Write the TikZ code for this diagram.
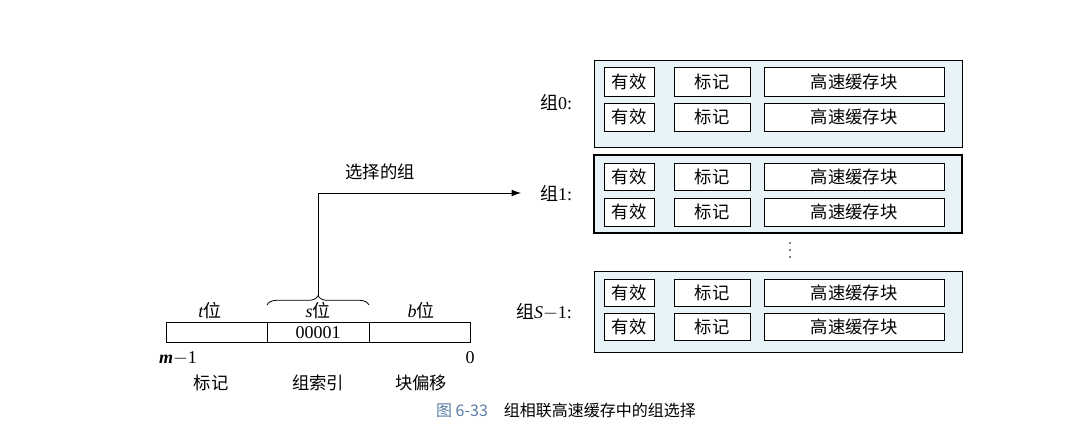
\documentclass[tikz,border=0pt]{standalone}
\usepackage{fontspec}
\setmainfont{Liberation Serif}
\newfontfamily\cjk{Noto Sans CJK SC}
\usetikzlibrary{decorations.pathreplacing,arrows.meta}
\definecolor{setfill}{HTML}{E8F3F8}
\definecolor{capblue}{HTML}{5A7FA8}
\tikzset{
  cell/.style={draw, line width=0.6pt, fill=white, inner sep=0pt, font=\cjk\fontsize{13}{13}\selectfont},
  setbox/.style={draw, line width=0.6pt, fill=setfill},
  lbl/.style={font=\fontsize{13.5}{13.5}\selectfont, inner sep=0pt},
  cjklbl/.style={font=\cjk\fontsize{13}{13}\selectfont, inner sep=0pt},
}
\begin{document}
\begin{tikzpicture}[x=0.75pt,y=-0.75pt]
\useasboundingbox (0,0) rectangle (1070,435);
\fill[white] (0,0) rectangle (1070,435);
\foreach \nm/\top/\bot/\lw in {s0/60/147/0.6pt, s1/155/233/1.4pt, sS/271/352/0.6pt}{
  \draw[setbox, line width=\lw] (594,\top) rectangle (962,\bot);
}
\foreach \nm/\ya/\yb in {a/67/96,b/103/131,c/163/190,d/198/226,e/279/306,f/313/340}{
  \node[cell, minimum width=50*0.75pt, minimum height={(\yb-\ya)*0.75pt}] (v\nm) at (629,{(\ya+\yb)/2}) {有效};
  \node[cell, minimum width=76*0.75pt, minimum height={(\yb-\ya)*0.75pt}] (t\nm) at (712,{(\ya+\yb)/2}) {标记};
  \node[cell, minimum width=180*0.75pt, minimum height={(\yb-\ya)*0.75pt}] (b\nm) at (854,{(\ya+\yb)/2}) {高速缓存块};
}
\node[lbl] (g0) at (556,102) {{\cjk 组}0:};
\node[lbl] (g1) at (556,193) {{\cjk 组}1:};
\node[lbl] (gS) at (544,312) {{\cjk 组}\textit{S}$-$1:};
\foreach \yy in {243,250,257} \fill (790,\yy) circle (0.9);
\draw[line width=0.6pt] (166,322) rectangle (470,342);
\draw[line width=0.6pt] (267,322) -- (267,342) (369,322) -- (369,342);
\node[lbl] (idx) at (318,333) {00001};
\node[lbl] (tb) at (210,311) {\textit{t}{\cjk 位}};
\node[lbl] (sb) at (318,311) {\textit{s}{\cjk 位}};
\node[lbl] (bb) at (421,311) {\textit{b}{\cjk 位}};
\draw[line width=0.6pt, decorate, decoration={brace, amplitude=7pt}] (267,305) -- (369,305);
\coordinate (btip) at (318,296);
\coordinate (arr) at (521,193);
\draw[line width=0.6pt, -{Latex[length=7pt,width=5pt]}] (btip) |- (arr);
\node[cjklbl] (sel) at (380,172) {选择的组};
\node[lbl] (m1) at (178,358) {\textbf{\textit{m}}$-$1};
\node[lbl] (z) at (470,358) {0};
\node[cjklbl] at (211,383) {标记};
\node[cjklbl] at (318,383) {组索引};
\node[cjklbl] at (421,383) {块偏移};
\node[cjklbl, font=\cjk\fontsize{12}{12}\selectfont] (cap) at (566,410) {{\color{capblue}图 6-33}\quad 组相联高速缓存中的组选择};
\end{tikzpicture}
\end{document}
